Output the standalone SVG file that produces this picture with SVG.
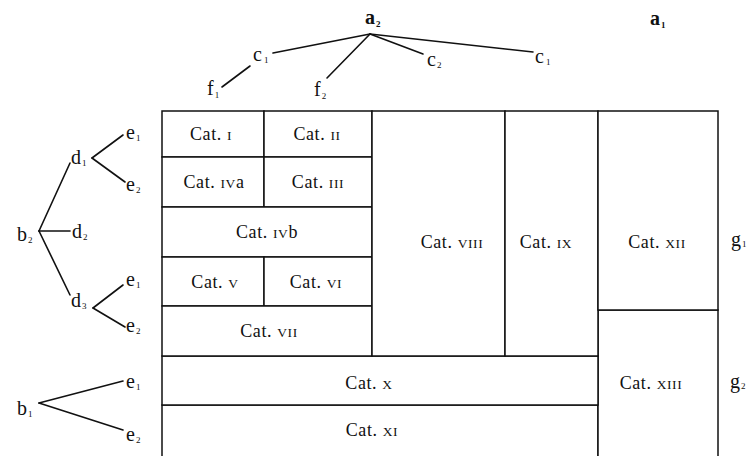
<svg xmlns="http://www.w3.org/2000/svg" width="750" height="456" viewBox="0 0 750 456">
  <style>
    .cell { fill: #fff; stroke: #111; stroke-width: 1.5; }
    .cat { font-family: "Liberation Serif", "Times New Roman", serif; font-size: 18px; letter-spacing: 0.6px; text-anchor: middle; fill: #111; }
    .sc { font-size: 13.5px; }
    .lbl { font-family: "Liberation Serif", "Times New Roman", serif; font-size: 20px; fill: #111; }
    .bold { font-weight: bold; }
    .sub { font-size: 9px; }
    .edge { stroke: #111; stroke-width: 1.6; fill: none; stroke-linecap: round; }
  </style>
  <rect width="750" height="456" fill="#fff"/>

  <!-- tree connectors -->
  <g id="connectors">
    <!-- top tree from a2 -->
    <line class="edge" x1="370" y1="34" x2="273" y2="53"/>
    <line class="edge" x1="370" y1="34" x2="327" y2="78"/>
    <line class="edge" x1="370" y1="34" x2="423" y2="54"/>
    <line class="edge" x1="370" y1="34" x2="533" y2="52"/>
    <line class="edge" x1="250" y1="66" x2="222" y2="87"/>
    <!-- left tree from b2 -->
    <line class="edge" x1="39" y1="231" x2="70" y2="163"/>
    <line class="edge" x1="39" y1="231" x2="70" y2="231"/>
    <line class="edge" x1="39" y1="231" x2="70" y2="295"/>
    <line class="edge" x1="92" y1="158" x2="123" y2="135"/>
    <line class="edge" x1="92" y1="158" x2="125" y2="182"/>
    <line class="edge" x1="93" y1="308" x2="123" y2="285"/>
    <line class="edge" x1="93" y1="308" x2="125" y2="327"/>
    <!-- tree from b1 -->
    <line class="edge" x1="39" y1="403" x2="123" y2="381"/>
    <line class="edge" x1="39" y1="403" x2="123" y2="430"/>
  </g>

  <!-- category cells -->
  <g id="cat-xi"><rect class="cell" x="162" y="405" width="436" height="70"/><text class="cat" x="372" y="436">Cat. <tspan class="sc">XI</tspan></text></g>
  <g id="cat-xiii"><rect class="cell" x="598" y="310" width="120" height="165"/><text class="cat" x="651" y="389">Cat. <tspan class="sc">XIII</tspan></text></g>
  <g id="cat-x"><rect class="cell" x="162" y="356" width="436" height="49"/><text class="cat" x="369" y="389">Cat. <tspan class="sc">X</tspan></text></g>
  <g id="cat-i"><rect class="cell" x="162" y="111" width="102" height="46"/><text class="cat" x="211" y="140">Cat. <tspan class="sc">I</tspan></text></g>
  <g id="cat-ii"><rect class="cell" x="264" y="111" width="108" height="46"/><text class="cat" x="317" y="140">Cat. <tspan class="sc">II</tspan></text></g>
  <g id="cat-iva"><rect class="cell" x="162" y="157" width="102" height="50"/><text class="cat" x="214" y="188">Cat. <tspan class="sc">IV</tspan>a</text></g>
  <g id="cat-iii"><rect class="cell" x="264" y="157" width="108" height="50"/><text class="cat" x="318" y="188">Cat. <tspan class="sc">III</tspan></text></g>
  <g id="cat-ivb"><rect class="cell" x="162" y="207" width="210" height="50"/><text class="cat" x="267" y="238">Cat. <tspan class="sc">IV</tspan>b</text></g>
  <g id="cat-v"><rect class="cell" x="162" y="257" width="102" height="49"/><text class="cat" x="215" y="288">Cat. <tspan class="sc">V</tspan></text></g>
  <g id="cat-vi"><rect class="cell" x="264" y="257" width="108" height="49"/><text class="cat" x="316" y="288">Cat. <tspan class="sc">VI</tspan></text></g>
  <g id="cat-vii"><rect class="cell" x="162" y="306" width="210" height="50"/><text class="cat" x="269" y="337">Cat. <tspan class="sc">VII</tspan></text></g>
  <g id="cat-viii"><rect class="cell" x="372" y="111" width="133" height="245"/><text class="cat" x="452" y="248">Cat. <tspan class="sc">VIII</tspan></text></g>
  <g id="cat-ix"><rect class="cell" x="505" y="111" width="93" height="245"/><text class="cat" x="546" y="248">Cat. <tspan class="sc">IX</tspan></text></g>
  <g id="cat-xii"><rect class="cell" x="598" y="111" width="120" height="199"/><text class="cat" x="657" y="248">Cat. <tspan class="sc">XII</tspan></text></g>

  <!-- top tree labels -->
  <g id="a2"><text class="lbl bold" x="365" y="24">a<tspan class="sub" dx="1" dy="3">2</tspan></text></g>
  <g id="a1"><text class="lbl bold" x="650" y="25">a<tspan class="sub" dx="1" dy="3">1</tspan></text></g>
  <g id="c1-left"><text class="lbl" x="253" y="61">c<tspan class="sub" dx="2" dy="2">1</tspan></text></g>
  <g id="f1"><text class="lbl" x="207" y="95">f<tspan class="sub" dx="1" dy="3">1</tspan></text></g>
  <g id="f2"><text class="lbl" x="314" y="96">f<tspan class="sub" dx="1" dy="3">2</tspan></text></g>
  <g id="c2"><text class="lbl" x="427" y="66">c<tspan class="sub" dx="1" dy="2">2</tspan></text></g>
  <g id="c1-right"><text class="lbl" x="535" y="63">c<tspan class="sub" dx="2" dy="2">1</tspan></text></g>

  <!-- left tree labels -->
  <g id="b2"><text class="lbl" x="17" y="241">b<tspan class="sub" dx="1" dy="2">2</tspan></text></g>
  <g id="d1"><text class="lbl" x="71" y="164">d<tspan class="sub" dx="1" dy="2">1</tspan></text></g>
  <g id="d2"><text class="lbl" x="72" y="238">d<tspan class="sub" dx="1" dy="2">2</tspan></text></g>
  <g id="d3"><text class="lbl" x="71" y="307">d<tspan class="sub" dx="1" dy="2">3</tspan></text></g>
  <g id="e1-a"><text class="lbl" x="126" y="139">e<tspan class="sub" dx="1" dy="2">1</tspan></text></g>
  <g id="e2-a"><text class="lbl" x="126" y="191">e<tspan class="sub" dx="1" dy="2">2</tspan></text></g>
  <g id="e1-b"><text class="lbl" x="126" y="286">e<tspan class="sub" dx="1" dy="2">1</tspan></text></g>
  <g id="e2-b"><text class="lbl" x="126" y="332">e<tspan class="sub" dx="1" dy="2">2</tspan></text></g>
  <g id="b1"><text class="lbl" x="17" y="415">b<tspan class="sub" dx="1" dy="2">1</tspan></text></g>
  <g id="e1-c"><text class="lbl" x="126" y="388">e<tspan class="sub" dx="1" dy="2">1</tspan></text></g>
  <g id="e2-c"><text class="lbl" x="126" y="441">e<tspan class="sub" dx="1" dy="2">2</tspan></text></g>

  <!-- right labels -->
  <g id="g1"><text class="lbl" x="731" y="246">g<tspan class="sub" dx="1" dy="1">1</tspan></text></g>
  <g id="g2"><text class="lbl" x="730" y="388">g<tspan class="sub" dx="1" dy="1">2</tspan></text></g>
</svg>
